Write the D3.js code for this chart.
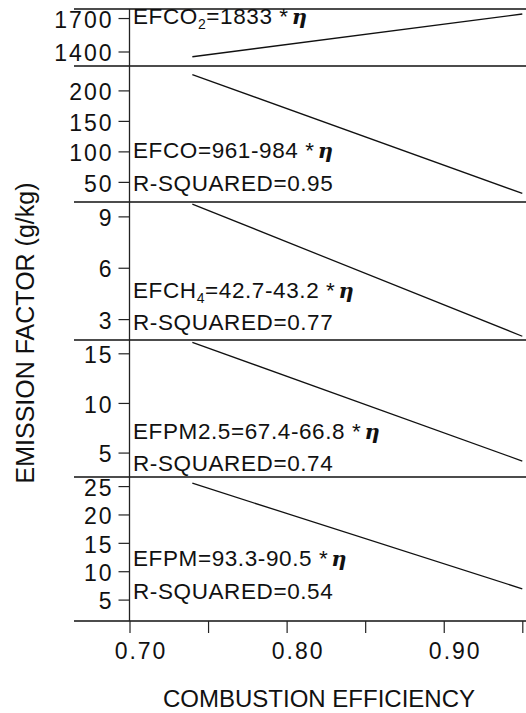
<!DOCTYPE html>
<html>
<head>
<meta charset="utf-8">
<script src="https://cdn.jsdelivr.net/npm/d3@7"></script>
<style>
    html, body { margin: 0; padding: 0; background: #fff; }
    svg { display: block; }
    text { font-family: "Liberation Sans", Arial, Helvetica, sans-serif; fill: #111; }
</style>
</head>
<body>
<script>
// Data
const panelNames = ["CO2", "CO", "CH4", "PM2.5", "PM"];
const yDomains = [[1270, 1781], [17, 240], [1.78, 9.84], [2.54, 16.34], [1.23, 26.6]];
const yTicks = [[1400, 1700], [50, 100, 150, 200], [3, 6, 9], [5, 10, 15], [5, 10, 15, 20, 25]];
const lineEta = [0.74, 0.95];
const lineStartValues = [1353, 226, 9.72, 16.1, 25.5];
const lineEndValues = [1736, 31, 2.0, 4.15, 6.9];
const eqLeft = [["EFCO", "2", "=1833"], ["EFCO", "", "=961-984"], ["EFCH", "4", "=42.7-43.2"], ["EFPM2.5", "", "=67.4-66.8"], ["EFPM", "", "=93.3-90.5"]];
const rSquared = [null, "0.95", "0.77", "0.74", "0.54"];
const xTicks = [0.70, 0.75, 0.80, 0.85, 0.90, 0.95];
const xTickLabels = ["0.70", "", "0.80", "", "0.90", ""];

// Layout
const width = 526;
const height = 713;
const axisX = 129.5;
const panelEdges = [9, 66, 202, 340, 477, 621];
const eqBaseline = [24, 158, 297.5, 439, 566];
const rsBaseline = [null, 191, 330, 471, 599];

const svg = d3.select("body").append("svg")
    .attr("width", width)
    .attr("height", height);

const x = d3.scaleLinear()
    .domain([0.70, 0.95])
    .range([axisX, 522.3]);

// panels
panelNames.forEach((name, i) => {
    const y = d3.scaleLinear()
        .domain(yDomains[i])
        .range([panelEdges[i + 1], panelEdges[i]]);

    const g = svg.append("g").attr("class", "panel");

    // y ticks
    const yAxis = d3.axisLeft(y)
        .tickValues(yTicks[i])
        .tickSize(11)
        .tickFormat(d3.format("d"));
    const ax = g.append("g")
        .attr("transform", `translate(${axisX},0)`)
        .call(yAxis);
    ax.select(".domain").remove();
    ax.selectAll(".tick line").attr("stroke", "#222").attr("stroke-width", 1.2);
    ax.selectAll(".tick text")
        .attr("x", -16)
        .attr("dy", "0.4em")
        .attr("fill", "#111")
        .style("font-size", "23px")
        .style("letter-spacing", "2px")
        .style("font-family", "'Liberation Sans', Arial, sans-serif");

    // regression line
    g.append("line")
        .attr("x1", x(lineEta[0]))
        .attr("x2", x(lineEta[1]))
        .attr("y1", y(lineStartValues[i]))
        .attr("y2", y(lineEndValues[i]))
        .attr("stroke", "#111")
        .attr("stroke-width", 1.3);

    // equation
    const eq = g.append("text")
        .attr("x", 133)
        .attr("y", eqBaseline[i])
        .style("font-size", "22.5px")
        .style("letter-spacing", "0.6px");
    eq.append("tspan").text(eqLeft[i][0]);
    if (eqLeft[i][1]) {
        eq.append("tspan")
            .attr("dy", 5)
            .style("font-size", "14px")
            .text(eqLeft[i][1]);
        eq.append("tspan").attr("dy", -5).text(eqLeft[i][2]);
    } else {
        eq.append("tspan").text(eqLeft[i][2]);
    }
    eq.append("tspan").text(" *");
    eq.append("tspan")
        .attr("dx", 3)
        .style("font-family", "'DejaVu Serif', serif")
        .style("font-weight", "bold")
        .style("font-style", "italic")
        .style("font-size", "21px")
        .text("η");

    if (rSquared[i]) {
        g.append("text")
            .attr("x", 133)
            .attr("y", rsBaseline[i])
            .style("font-size", "22.5px")
            .style("letter-spacing", "0.6px")
            .text(`R-SQUARED=${rSquared[i]}`);
    }
});

// panel separators
svg.append("g")
    .selectAll("line")
    .data(panelEdges)
    .join("line")
    .attr("x1", 74)
    .attr("x2", width)
    .attr("y1", d => d)
    .attr("y2", d => d)
    .attr("stroke", "#111")
    .attr("stroke-width", 1.5);

// vertical axis
svg.append("line")
    .attr("x1", axisX)
    .attr("x2", axisX)
    .attr("y1", panelEdges[0])
    .attr("y2", panelEdges[5])
    .attr("stroke", "#222")
    .attr("stroke-width", 1.3);

// x axis
const xAxis = d3.axisBottom(x)
    .tickValues(xTicks)
    .tickSize(12)
    .tickFormat((d, i) => xTickLabels[i]);
const xg = svg.append("g")
    .attr("transform", `translate(0,${panelEdges[5]})`)
    .call(xAxis);
xg.select(".domain").remove();
xg.selectAll(".tick line").attr("stroke", "#222").attr("stroke-width", 1.2);
xg.selectAll(".tick text")
    .attr("y", 0)
    .attr("dy", 38)
    .attr("dx", 11)
    .attr("fill", "#111")
    .style("font-size", "23px")
    .style("letter-spacing", "2px")
    .style("font-family", "'Liberation Sans', Arial, sans-serif");

// axis titles
svg.append("text")
    .attr("x", 319)
    .attr("y", 707)
    .attr("text-anchor", "middle")
    .style("font-size", "24px")
    .text("COMBUSTION EFFICIENCY");

svg.append("text")
    .attr("transform", "translate(33.5,333) rotate(-90)")
    .attr("text-anchor", "middle")
    .style("font-size", "25px")
    .text("EMISSION FACTOR (g/kg)");
</script>
</body>
</html>
